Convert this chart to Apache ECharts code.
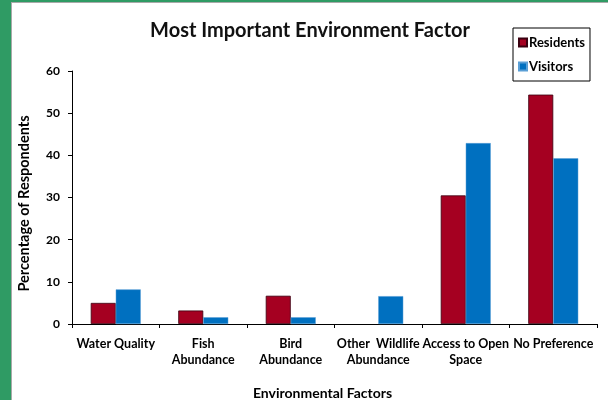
<!DOCTYPE html>
<html>
<head>
<meta charset="utf-8">
<script src="https://cdn.jsdelivr.net/npm/echarts@6/dist/echarts.min.js"></script>
<style>
  html, body { margin: 0; padding: 0; background: #fff; }
  #chart { width: 608px; height: 400px; }
</style>
</head>
<body>
<div id="chart"></div>
<script>
// Survey: most important environment factor, % of respondents
const categories = [
  'Water Quality',
  'Fish\nAbundance',
  'Bird\nAbundance',
  'Other  Wildlife\nAbundance',
  'Access to Open\nSpace',
  'No Preference'
];
const residents = [5.0, 3.2, 6.7, 0, 30.5, 54.4];
const visitors = [8.2, 1.6, 1.6, 6.6, 42.9, 39.3];
const yTicks = [0, 10, 20, 30, 40, 50, 60];

const FONT = 'Lato';
const chart = echarts.init(document.getElementById('chart'), null, { renderer: 'canvas' });

// zero-height bars get no outline
const residentItems = residents.map(v => v === 0 ? { value: v, itemStyle: { borderWidth: 0 } } : v);

chart.setOption({
  backgroundColor: '#ffffff',
  textStyle: { fontFamily: FONT, color: '#000' },
  graphic: [
    { type: 'rect', shape: { x: 0, y: 0, width: 11, height: 400 }, style: { fill: '#2f9b64' }, silent: true },
    { type: 'rect', shape: { x: 0, y: 0, width: 608, height: 2 }, style: { fill: '#2f9b64' }, silent: true },
    { type: 'rect', shape: { x: 11, y: 2, width: 1, height: 398 }, style: { fill: '#a9a9a9' }, silent: true },
    { type: 'rect', shape: { x: 11, y: 2, width: 597, height: 1 }, style: { fill: '#a9a9a9' }, silent: true }
  ],
  title: {
    text: 'Most Important Environment Factor',
    left: 305,
    textAlign: 'center',
    top: 16,
    textStyle: { fontFamily: FONT, fontSize: 20, fontWeight: 'bold', color: '#111' }
  },
  legend: {
    orient: 'vertical',
    left: 513,
    top: 28,
    itemWidth: 8,
    itemHeight: 8,
    itemGap: 11,
    padding: [8, 5, 8, 5],
    borderColor: '#000',
    borderWidth: 1,
    icon: 'rect',
    textStyle: { fontFamily: FONT, fontSize: 13, fontWeight: 'bold', color: '#000', padding: [0, 0, 0, -3] },
    data: ['Residents', 'Visitors']
  },
  grid: { left: 72, right: 11, top: 71, bottom: 76, outerBoundsMode: 'none', containLabel: false },
  xAxis: {
    type: 'category',
    data: categories,
    name: 'Environmental Factors',
    nameLocation: 'middle',
    nameGap: 62,
    nameTextStyle: { fontFamily: FONT, fontSize: 14, fontWeight: 'bold', color: '#000', padding: [0, 24, 0, 0] },
    axisLine: { lineStyle: { color: '#000', width: 1 } },
    axisTick: { show: true, alignWithLabel: false, length: 4, lineStyle: { color: '#000' } },
    axisLabel: { interval: 0, color: '#000', fontFamily: FONT, fontSize: 12.5, fontWeight: 'bold', lineHeight: 16, margin: 12 }
  },
  yAxis: {
    type: 'value',
    min: yTicks[0],
    max: yTicks[yTicks.length - 1],
    interval: 10,
    name: 'Percentage of Respondents',
    nameLocation: 'middle',
    nameGap: 40,
    nameRotate: 90,
    nameTextStyle: { fontFamily: FONT, fontSize: 14.5, fontWeight: 'bold', color: '#000', padding: [0, 12, 0, 0] },
    axisLine: { show: true, lineStyle: { color: '#000', width: 1 } },
    axisTick: { show: true, length: 4, lineStyle: { color: '#000' } },
    splitLine: { show: false },
    axisLabel: { color: '#000', fontFamily: FONT, fontSize: 12, fontWeight: 'bold', margin: 12 }
  },
  series: [
    {
      name: 'Residents',
      type: 'bar',
      data: residentItems,
      barWidth: 25,
      barGap: '0%',
      itemStyle: { color: '#a50021', borderColor: '#3a0010', borderWidth: 0.8 }
    },
    {
      name: 'Visitors',
      type: 'bar',
      data: visitors,
      barWidth: 25,
      barGap: '0%',
      itemStyle: { color: '#0070c0', borderColor: '#5a9fd6', borderWidth: 0.5 }
    }
  ],
  animation: false
});
</script>
</body>
</html>
